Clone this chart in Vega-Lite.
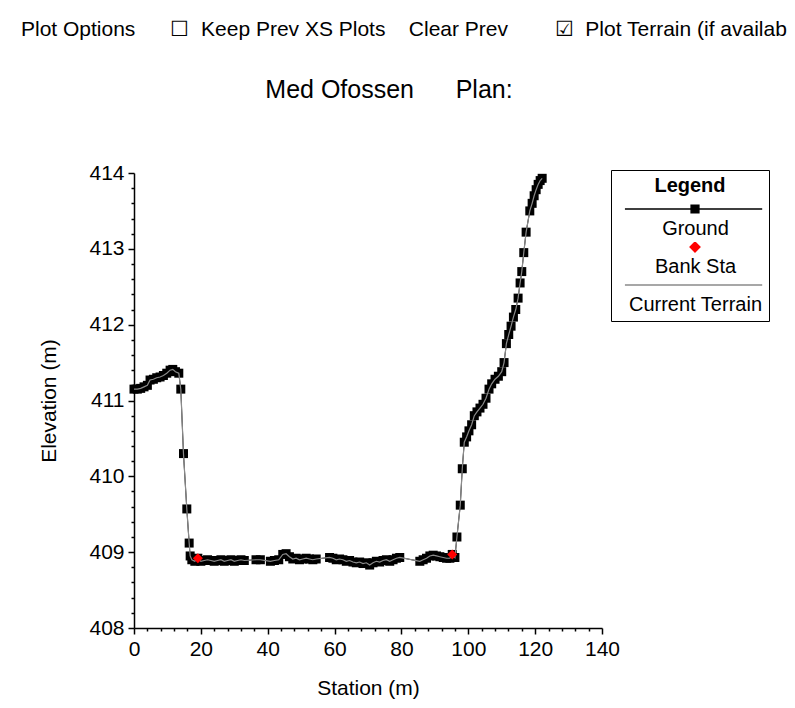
{
  "$schema": "https://vega.github.io/schema/vega-lite/v6.json",
  "background": "white",
  "padding": {"left": 20, "top": 19, "right": 5, "bottom": 5},
  "title": {"text": "Plot Options\u00a0\u00a0\u00a0\u00a0\u00a0\u00a0☐\u00a0\u00a0Keep Prev XS Plots\u00a0\u00a0\u00a0\u00a0Clear Prev\u00a0\u00a0\u00a0\u00a0\u00a0\u00a0\u00a0\u00a0☑\u00a0\u00a0Plot Terrain (if availab", "anchor": "start", "dx": -18, "fontSize": 21, "fontWeight": "normal", "font": "Liberation Sans", "color": "black", "offset": 38},
  "datasets": {
    "ground": [
      {"station": 0, "elev": 411.15}, {"station": 1, "elev": 411.15}, {"station": 2, "elev": 411.16}, {"station": 3, "elev": 411.18}, {"station": 4, "elev": 411.2},
      {"station": 4.8, "elev": 411.27}, {"station": 5.8, "elev": 411.28}, {"station": 6.8, "elev": 411.3}, {"station": 7.8, "elev": 411.31}, {"station": 8.8, "elev": 411.33},
      {"station": 9.8, "elev": 411.36}, {"station": 10.8, "elev": 411.4}, {"station": 11.6, "elev": 411.41}, {"station": 12.4, "elev": 411.38}, {"station": 13.4, "elev": 411.36},
      {"station": 14, "elev": 411.15}, {"station": 14.8, "elev": 410.3}, {"station": 15.8, "elev": 409.57}, {"station": 16.5, "elev": 409.12}, {"station": 16.8, "elev": 408.95},
      {"station": 17.3, "elev": 408.9}, {"station": 18.2, "elev": 408.88}, {"station": 19.1, "elev": 408.92}, {"station": 20, "elev": 408.88}, {"station": 21, "elev": 408.89},
      {"station": 22, "elev": 408.9}, {"station": 23, "elev": 408.89}, {"station": 24, "elev": 408.88}, {"station": 25, "elev": 408.89}, {"station": 26, "elev": 408.9},
      {"station": 27, "elev": 408.88}, {"station": 28, "elev": 408.89}, {"station": 29, "elev": 408.9}, {"station": 30, "elev": 408.88}, {"station": 31, "elev": 408.89},
      {"station": 32, "elev": 408.9}, {"station": 33, "elev": 408.89}, {"station": 36.5, "elev": 408.9}, {"station": 37.8, "elev": 408.9}, {"station": 40.8, "elev": 408.88},
      {"station": 42, "elev": 408.89}, {"station": 43.3, "elev": 408.9}, {"station": 44.5, "elev": 408.97}, {"station": 45.5, "elev": 408.98}, {"station": 46.5, "elev": 408.94},
      {"station": 47.5, "elev": 408.91}, {"station": 48.5, "elev": 408.92}, {"station": 49.5, "elev": 408.9}, {"station": 50.5, "elev": 408.91}, {"station": 51.5, "elev": 408.92},
      {"station": 52.5, "elev": 408.91}, {"station": 53.5, "elev": 408.9}, {"station": 54.5, "elev": 408.91}, {"station": 58.5, "elev": 408.93}, {"station": 59.5, "elev": 408.92},
      {"station": 60.5, "elev": 408.9}, {"station": 61.5, "elev": 408.91}, {"station": 62.5, "elev": 408.9}, {"station": 63.5, "elev": 408.88}, {"station": 64.5, "elev": 408.89},
      {"station": 65.5, "elev": 408.87}, {"station": 66.5, "elev": 408.86}, {"station": 67.5, "elev": 408.87}, {"station": 68.5, "elev": 408.85}, {"station": 69.5, "elev": 408.86},
      {"station": 70.5, "elev": 408.83}, {"station": 71.5, "elev": 408.86}, {"station": 72.5, "elev": 408.88}, {"station": 73.5, "elev": 408.87}, {"station": 74.5, "elev": 408.89},
      {"station": 75.5, "elev": 408.9}, {"station": 76.5, "elev": 408.88}, {"station": 77.5, "elev": 408.9}, {"station": 78.5, "elev": 408.92}, {"station": 79.5, "elev": 408.93},
      {"station": 85.5, "elev": 408.88}, {"station": 86.5, "elev": 408.9}, {"station": 87.5, "elev": 408.92}, {"station": 88.5, "elev": 408.95}, {"station": 89.5, "elev": 408.96},
      {"station": 90.5, "elev": 408.95}, {"station": 91.5, "elev": 408.94}, {"station": 92.5, "elev": 408.93}, {"station": 93.5, "elev": 408.92}, {"station": 94.5, "elev": 408.92},
      {"station": 95.2, "elev": 408.97}, {"station": 96, "elev": 408.93}, {"station": 96.6, "elev": 409.2}, {"station": 97.6, "elev": 409.62}, {"station": 98.2, "elev": 410.1},
      {"station": 98.8, "elev": 410.45}, {"station": 99.5, "elev": 410.52}, {"station": 100.2, "elev": 410.6}, {"station": 101, "elev": 410.68}, {"station": 101.8, "elev": 410.8},
      {"station": 102.6, "elev": 410.85}, {"station": 103.5, "elev": 410.9}, {"station": 104.4, "elev": 410.95}, {"station": 105.3, "elev": 411.03}, {"station": 106.2, "elev": 411.15},
      {"station": 107, "elev": 411.22}, {"station": 108, "elev": 411.28}, {"station": 109, "elev": 411.32}, {"station": 110, "elev": 411.38}, {"station": 110.7, "elev": 411.5},
      {"station": 111.4, "elev": 411.75}, {"station": 112.1, "elev": 411.87}, {"station": 112.8, "elev": 411.98}, {"station": 113.5, "elev": 412.1}, {"station": 114.2, "elev": 412.2},
      {"station": 114.9, "elev": 412.35}, {"station": 115.5, "elev": 412.55}, {"station": 116, "elev": 412.7}, {"station": 116.6, "elev": 412.95}, {"station": 117.3, "elev": 413.22},
      {"station": 118.4, "elev": 413.5}, {"station": 119.1, "elev": 413.6}, {"station": 119.7, "elev": 413.7}, {"station": 120.3, "elev": 413.78}, {"station": 120.9, "elev": 413.85},
      {"station": 121.5, "elev": 413.9}, {"station": 122.1, "elev": 413.93}
    ],
    "bank": [
      {"station": 19.1, "elev": 408.92},
      {"station": 95.2, "elev": 408.97}
    ],
    "legendItems": [
      {"series": "Ground"}, {"series": "Bank Sta"}, {"series": "Current Terrain"}
    ]
  },
  "vconcat": [
    {
      "width": 468,
      "height": 455,
      "title": {"text": "Med Ofossen\u00a0\u00a0\u00a0\u00a0\u00a0\u00a0Plan:", "anchor": "middle", "frame": "group", "dx": 21, "fontSize": 25, "fontWeight": "normal", "font": "Liberation Sans", "color": "black", "offset": 59},
      "encoding": {
        "x": {"field": "station", "type": "quantitative", "title": "Station (m)",
          "scale": {"domain": [0, 140], "nice": false, "zero": false},
          "axis": {"values": [0,4,8,12,16,20,24,28,32,36,40,44,48,52,56,60,64,68,72,76,80,84,88,92,96,100,104,108,112,116,120,124,128,132,136,140],
            "labelExpr": "datum.value % 20 === 0 ? datum.label : ''",
            "tickSize": {"condition": {"test": "datum.value % 20 === 0", "value": 6}, "value": 3},
            "labelOverlap": false, "labelFlush": false, "labelPadding": 4, "titlePadding": 18}},
        "y": {"field": "elev", "type": "quantitative", "title": "Elevation (m)",
          "scale": {"domain": [408, 414], "nice": false, "zero": false},
          "axis": {"values": [408,408.2,408.4,408.6,408.8,409,409.2,409.4,409.6,409.8,410,410.2,410.4,410.6,410.8,411,411.2,411.4,411.6,411.8,412,412.2,412.4,412.6,412.8,413,413.2,413.4,413.6,413.8,414],
            "labelExpr": "abs(datum.value - round(datum.value)) < 0.001 ? format(datum.value, 'd') : ''",
            "tickSize": {"condition": {"test": "abs(datum.value - round(datum.value)) < 0.001", "value": 6}, "value": 3},
            "labelOverlap": false, "labelFlush": false, "labelPadding": 4, "titlePadding": 29}}
      },
      "layer": [
        {"data": {"name": "ground"}, "mark": {"type": "line", "color": "black", "strokeWidth": 1}},
        {"data": {"name": "ground"}, "mark": {"type": "point", "shape": "square", "filled": true, "color": "black", "size": 81, "opacity": 1}},
        {"data": {"name": "ground"}, "mark": {"type": "line", "color": "#8a8a8a", "strokeWidth": 1.2}},
        {"data": {"name": "bank"}, "mark": {"type": "point", "shape": "diamond", "filled": true, "color": "#ff0000", "size": 100, "opacity": 1}},
        {
          "data": {"name": "legendItems"},
          "mark": {"type": "point", "filled": true, "opacity": 0, "size": 23716},
          "encoding": {
            "x": null, "y": null,
            "color": {"field": "series", "type": "nominal",
              "scale": {"domain": ["Ground", "Bank Sta", "Current Terrain"], "range": ["#000000", "#ff0000", "#8a8a8a"]},
              "legend": {"orient": "none", "legendX": 477, "legendY": -3, "title": "Legend",
                "titleAnchor": "middle", "titleFontWeight": "bold", "titleFontSize": 20, "titleFont": "Liberation Sans", "titleColor": "black", "titlePadding": 8,
                "labelFontSize": 20, "labelFont": "Liberation Sans", "labelColor": "black", "labelLimit": 300, "labelOffset": 0,
                "strokeColor": "black", "fillColor": "white", "padding": 6, "rowPadding": 3, "clipHeight": 10,
                "symbolSize": 23716, "symbolOpacity": 1, "symbolStrokeWidth": 1.5, "symbolOffset": 0,
                "encode": {
                  "symbols": {"update": {
                    "fill": {"signal": "datum.value === 'Current Terrain' ? 'transparent' : scale('color', datum.value)"},
                    "stroke": {"signal": "scale('color', datum.value)"},
                    "strokeWidth": {"value": 1.5},
                    "opacity": {"value": 1}}},
                  "labels": {"update": {
                    "align": {"value": "center"},
                    "dx": {"value": -77.5},
                    "dy": {"value": 20}}}
                }}},
            "shape": {"field": "series", "type": "nominal",
              "scale": {"domain": ["Ground", "Bank Sta", "Current Terrain"], "range": ["M-0.91,0H0.91M-0.05,-0.05H0.05V0.05H-0.05Z", "M0,-0.063L0.063,0L0,0.063L-0.063,0Z", "M-0.91,0H0.91"]}}
          }
        }
      ]
    }
  ],
  "config": {
    "view": {"stroke": null},
    "font": "Liberation Sans",
    "axis": {"grid": false, "domainColor": "black", "domainWidth": 1.5, "tickColor": "black", "tickWidth": 1.5,
      "labelColor": "black", "titleColor": "black", "labelFont": "Liberation Sans", "titleFont": "Liberation Sans",
      "labelFontSize": 21, "titleFontSize": 21, "titleFontWeight": "normal"}
  }
}
